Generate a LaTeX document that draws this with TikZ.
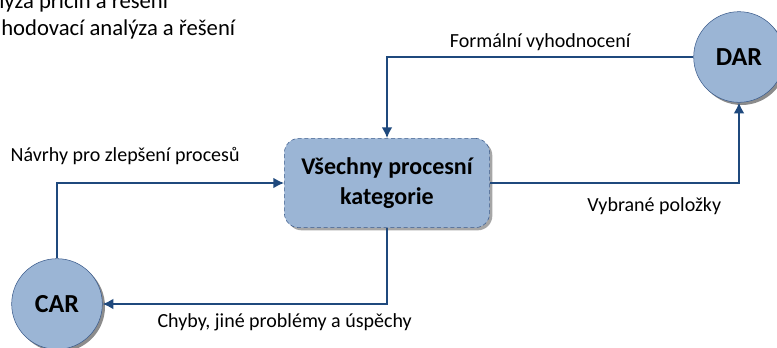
\documentclass[tikz,border=0pt]{standalone}
\usepackage{fontspec}
\setmainfont{Carlito}
\usetikzlibrary{positioning, arrows.meta, shadows}
\definecolor{areafill}{RGB}{155,181,213}
\definecolor{flowline}{RGB}{31,73,125}
\definecolor{rimline}{RGB}{60,92,140}
\tikzset{
  x=0.75pt, y=-0.75pt,
  area/.style={
    circle, draw=rimline, fill=areafill, inner sep=0pt, minimum size=68pt,
    font=\bfseries\fontsize{19.5}{23}\selectfont,
    drop shadow={shadow xshift=2pt, shadow yshift=-2pt, fill=black!45, opacity=1}
  },
  procbox/.style={
    rectangle, rounded corners=11pt, draw=rimline, densely dashed, fill=areafill,
    minimum width=154pt, minimum height=67pt, align=center,
    font=\bfseries\fontsize{18}{22}\selectfont,
    drop shadow={shadow xshift=2pt, shadow yshift=-2pt, fill=black!35, opacity=1}
  },
  flow/.style={-{Latex[length=8pt, width=8pt]}, draw=flowline, line width=1.3pt},
  lbl/.style={font=\fontsize{15}{18}\selectfont, text=black},
  note/.style={font=\fontsize{17}{20}\selectfont, anchor=base west, inner sep=0pt}
}
\begin{document}
\begin{tikzpicture}
  \useasboundingbox (0,0) rectangle (777,347);

  \node[note] (note1) at (-1,8) {lýza příčin a řešení};
  \node[note] (note2) at (1,35) {hodovací analýza a řešení};

  \node[procbox] (all) at (387,183) {Všechny procesní\\kategorie};
  \node[area] (car) at (57,304) {CAR};
  \node[area] (dar) at (739,57) {DAR};

  \path[flow] (dar.west) -| node[lbl, pos=0.25, above=1pt] {Formální vyhodnocení} (all.north);
  \path[flow] (all.east) -| node[lbl, pos=0.33, below=7pt] {Vybrané položky} (dar.south);
  \path[flow] (car.north) |- node[lbl, pos=0.65, above=10pt] {Návrhy pro zlepšení procesů} (all.west);
  \path[flow] (all.south) |- node[lbl, pos=0.68, below=3pt] {Chyby, jiné problémy a úspěchy} (car.east);
\end{tikzpicture}
\end{document}
